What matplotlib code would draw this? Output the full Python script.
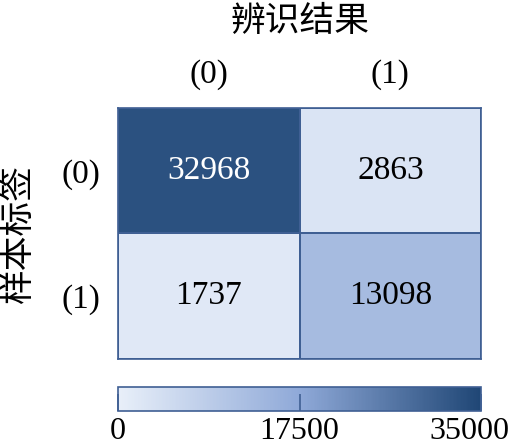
import numpy as np
import matplotlib
matplotlib.use('Agg')
import matplotlib.pyplot as plt
import matplotlib.transforms as mtransforms
from matplotlib.colors import LinearSegmentedColormap, Normalize

plt.rcParams['font.family'] = ['Liberation Serif', 'Noto Sans CJK SC']

# data
row_labels = ['(0)', '(1)']
col_labels = ['(0)', '(1)']
row_0 = [32968, 2863]
row_1 = [1737, 13098]
cbar_ticks = [0, 17500, 35000]
xlabel = '辨识结果'
ylabel = '样本标签'

cm = np.array([row_0, row_1])
cmap = LinearSegmentedColormap.from_list(
    'blu', [(0.0, '#E8EFF9'), (0.5, '#8FA9D8'), (1.0, '#1F4675')])
norm = Normalize(vmin=cbar_ticks[0], vmax=cbar_ticks[-1])
edge = '#3F5F93'

fig = plt.figure(figsize=(5.13, 4.48), dpi=100)
ax = fig.add_axes([0.230, 0.199, 0.708, 0.560])
ax.pcolormesh(cm, cmap=cmap, norm=norm, edgecolors=edge, linewidth=1.2)
ax.set_xlim(0, 2)
ax.set_ylim(2, 0)
for s in ax.spines.values():
    s.set_color(edge)
    s.set_linewidth(1.2)

for i in range(2):
    for j in range(2):
        v = cm[i, j]
        c = 'white' if norm(v) > 0.6 else 'black'
        ax.text(j + 0.5, i + 0.5, str(v), ha='center', va='center',
                fontsize=24, color=c)

ax.xaxis.tick_top()
ax.set_xticks([0.5, 1.5])
ax.set_xticklabels(col_labels, fontsize=24)
ax.set_yticks([0.5, 1.5])
ax.set_yticklabels(row_labels, fontsize=24)
ax.tick_params(length=0, pad=13)
ax.xaxis.set_label_position('top')
ax.set_xlabel(xlabel, fontsize=25, labelpad=20)
ax.set_ylabel(ylabel, fontsize=25, labelpad=18)

cax = fig.add_axes([0.230, 0.082, 0.708, 0.054])
cb = fig.colorbar(plt.cm.ScalarMappable(norm=norm, cmap=cmap), cax=cax,
                  orientation='horizontal', ticks=cbar_ticks)
cb.outline.set_edgecolor(edge)
cb.outline.set_linewidth(1.2)
cax.tick_params(direction='in', length=12, width=1.2, color=edge,
                labelsize=23, pad=4)
cax.set_xticklabels([str(t) for t in cbar_ticks])
# last label pulled left so it stays inside the figure
last = cax.get_xticklabels()[-1]
last.set_transform(last.get_transform() +
                   mtransforms.ScaledTranslation(-0.12, 0, fig.dpi_scale_trans))

fig.savefig('out.png', dpi=100)
